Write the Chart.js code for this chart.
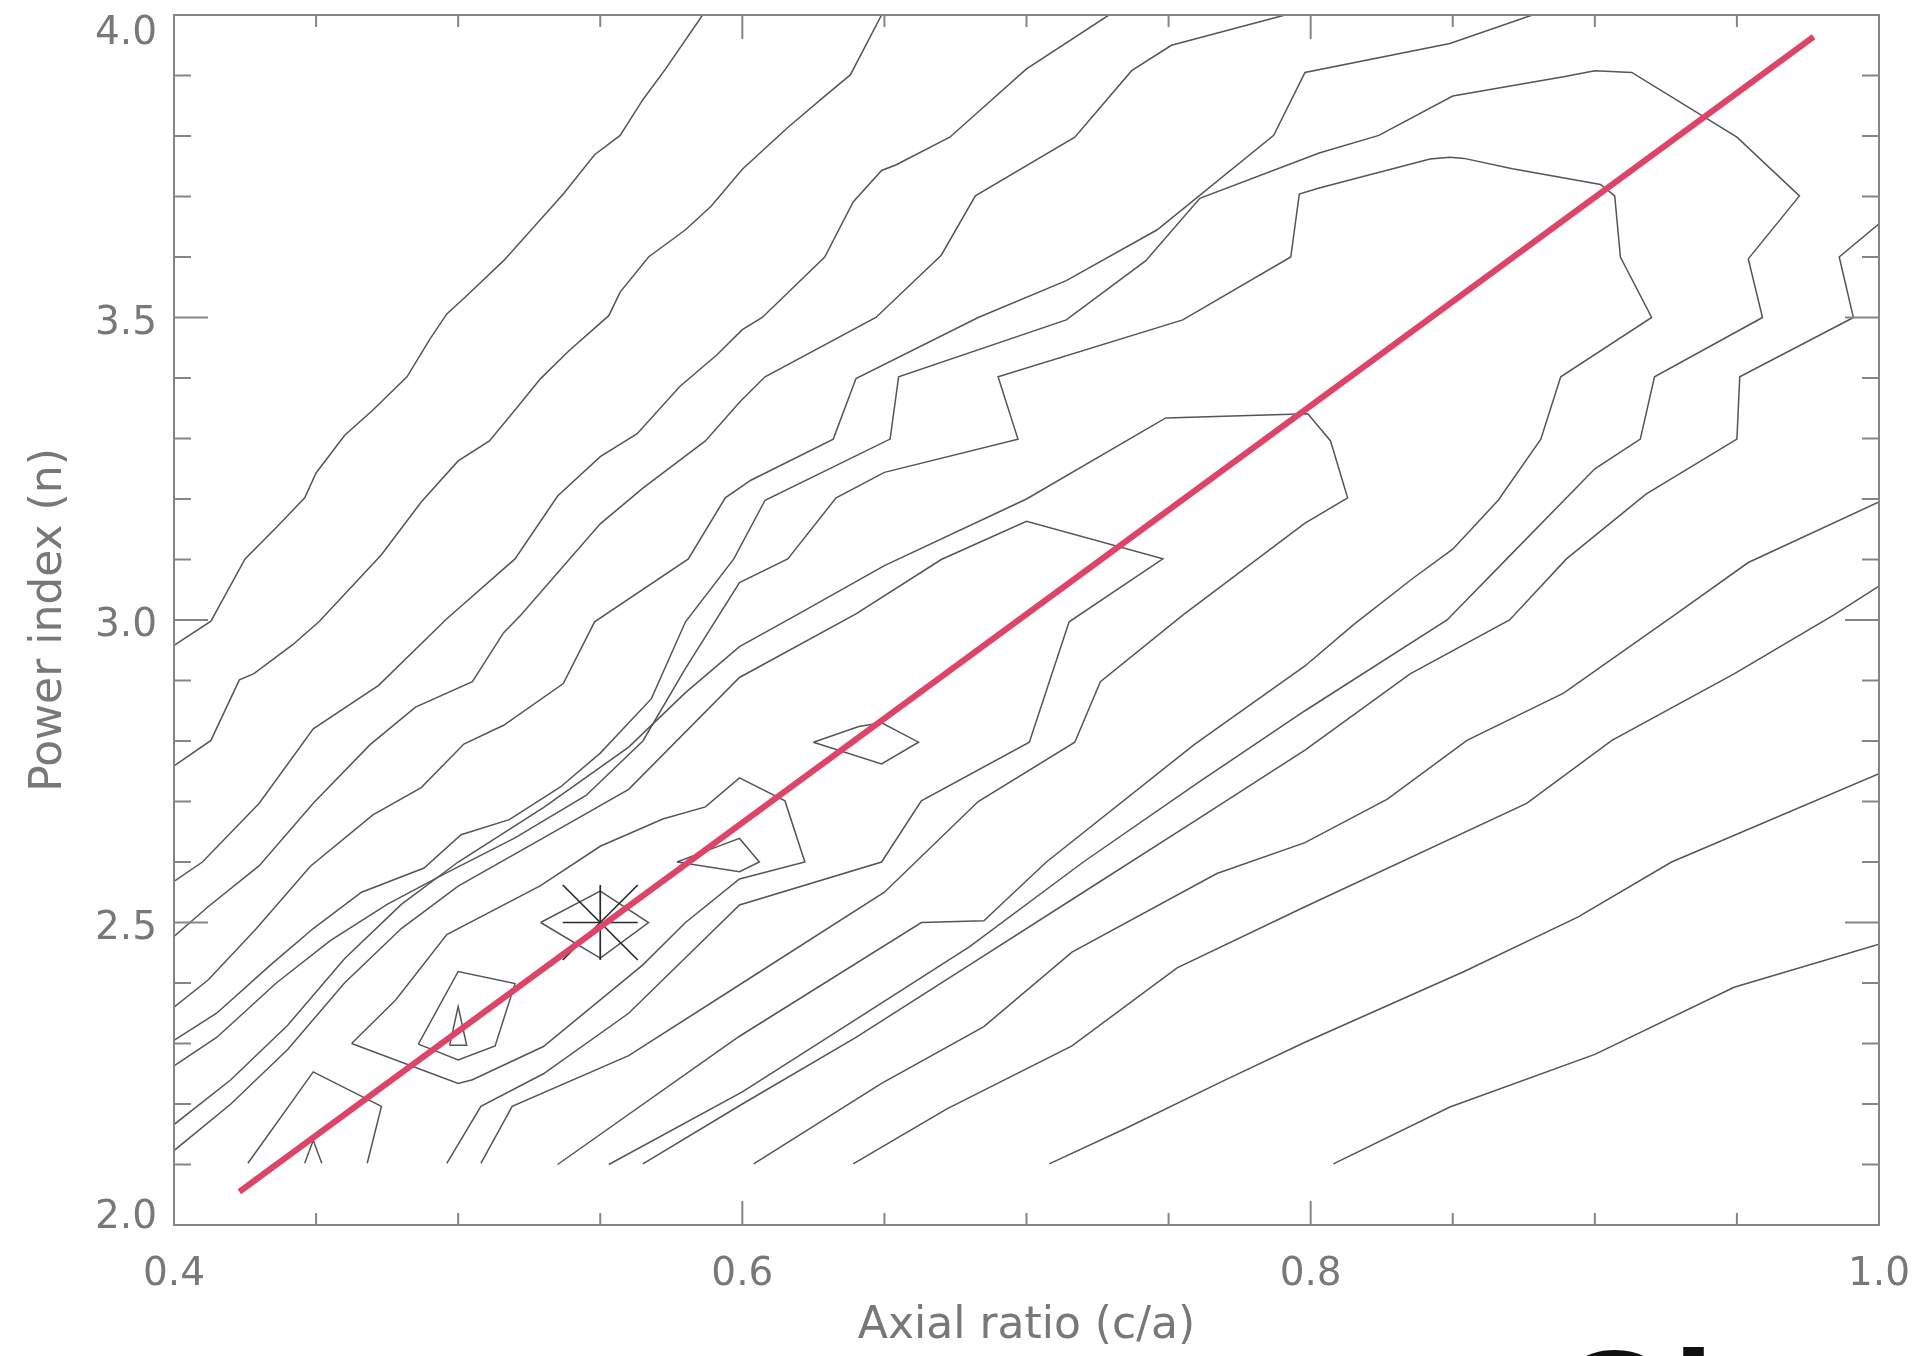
<!DOCTYPE html>
<html>
<head>
<meta charset="utf-8">
<script src="https://cdn.jsdelivr.net/npm/chart.js@4.4.1/dist/chart.umd.min.js"></script>
<style>
  html, body { margin: 0; padding: 0; background: #fff; }
  #wrap { width: 1917px; height: 1356px; overflow: hidden; }
</style>
</head>
<body>
<div id="wrap"><canvas id="contourChart" width="1917" height="1356"></canvas></div>
<script>
// Axis ranges and tick labels
const xRange = [0.4, 1.0];
const yRange = [2.0, 4.0];
const xTickLabels = ['0.4', '0.6', '0.8', '1.0'];
const yTickLabels = ['2.0', '2.5', '3.0', '3.5', '4.0'];

// Contours on the upper-left side of the valley (left edge -> top edge)
const contourA = [[0.400,2.958],[0.413,2.998],[0.425,3.101],[0.436,3.153],[0.446,3.202],[0.450,3.243],[0.460,3.305],[0.470,3.347],[0.482,3.402],[0.490,3.464],[0.496,3.506],[0.503,3.536],[0.516,3.594],[0.537,3.704],[0.548,3.769],[0.557,3.801],[0.565,3.860],[0.573,3.911],[0.586,4.000]];
const contourB = [[0.400,2.759],[0.413,2.801],[0.423,2.901],[0.428,2.911],[0.442,2.960],[0.451,2.997],[0.473,3.108],[0.487,3.195],[0.500,3.263],[0.511,3.296],[0.520,3.347],[0.529,3.399],[0.539,3.445],[0.553,3.503],[0.557,3.542],[0.567,3.600],[0.580,3.645],[0.589,3.684],[0.600,3.745],[0.616,3.814],[0.629,3.866],[0.638,3.901],[0.649,4.000]];
const contourC = [[0.400,2.568],[0.410,2.600],[0.430,2.697],[0.449,2.820],[0.472,2.892],[0.496,3.002],[0.520,3.101],[0.535,3.205],[0.550,3.270],[0.563,3.308],[0.578,3.386],[0.591,3.438],[0.600,3.480],[0.607,3.500],[0.629,3.600],[0.639,3.691],[0.649,3.743],[0.654,3.752],[0.673,3.798],[0.700,3.911],[0.729,4.000]];
const contourD = [[0.400,2.477],[0.412,2.526],[0.430,2.594],[0.449,2.697],[0.469,2.794],[0.485,2.856],[0.505,2.898],[0.516,2.979],[0.522,3.008],[0.550,3.159],[0.565,3.218],[0.587,3.296],[0.599,3.360],[0.608,3.402],[0.647,3.500],[0.670,3.603],[0.682,3.701],[0.717,3.798],[0.737,3.908],[0.751,3.950],[0.791,4.000]];
const contourE = [[0.400,2.360],[0.412,2.405],[0.429,2.490],[0.448,2.593],[0.470,2.678],[0.487,2.723],[0.502,2.795],[0.516,2.826],[0.537,2.895],[0.548,2.997],[0.581,3.101],[0.594,3.202],[0.603,3.231],[0.632,3.299],[0.640,3.399],[0.683,3.500],[0.714,3.561],[0.746,3.645],[0.787,3.801],[0.798,3.905],[0.849,3.953],[0.878,4.000]];

// Contours wrapping round the valley (left edge -> bottom edge)
const wrap1 = [[0.400,2.305],[0.415,2.350],[0.434,2.430],[0.449,2.490],[0.466,2.550],[0.488,2.590],[0.501,2.645],[0.518,2.670],[0.536,2.724],[0.550,2.780],[0.568,2.870],[0.580,2.997],[0.597,3.101],[0.608,3.198],[0.652,3.299],[0.655,3.402],[0.714,3.496],[0.742,3.594],[0.761,3.697],[0.803,3.772],[0.824,3.801],[0.850,3.866],[0.889,3.898],[0.900,3.908],[0.913,3.905],[0.950,3.798],[0.972,3.701],[0.954,3.597],[0.959,3.500],[0.921,3.402],[0.916,3.299],[0.900,3.250],[0.869,3.101],[0.848,3.000],[0.798,2.850],[0.760,2.730],[0.720,2.600],[0.680,2.460],[0.640,2.340],[0.600,2.220],[0.553,2.100]];
const wrap2 = [[0.400,2.263],[0.415,2.310],[0.436,2.400],[0.455,2.470],[0.475,2.530],[0.495,2.580],[0.520,2.640],[0.545,2.710],[0.565,2.800],[0.580,2.920],[0.599,3.062],[0.616,3.101],[0.633,3.202],[0.650,3.244],[0.697,3.299],[0.690,3.402],[0.755,3.496],[0.793,3.600],[0.796,3.704],[0.803,3.714],[0.842,3.762],[0.849,3.765],[0.854,3.763],[0.871,3.746],[0.902,3.720],[0.907,3.701],[0.909,3.600],[0.920,3.500],[0.888,3.402],[0.881,3.299],[0.866,3.198],[0.850,3.117],[0.836,3.069],[0.815,2.992],[0.798,2.924],[0.759,2.794],[0.707,2.600],[0.685,2.503],[0.663,2.500],[0.599,2.312],[0.535,2.100]];
const wrap3 = [[0.400,2.166],[0.420,2.240],[0.440,2.330],[0.460,2.440],[0.480,2.530],[0.500,2.600],[0.530,2.690],[0.560,2.790],[0.580,2.880],[0.599,2.956],[0.619,3.008],[0.650,3.090],[0.700,3.200],[0.749,3.334],[0.799,3.341],[0.807,3.296],[0.813,3.202],[0.798,3.160],[0.755,3.008],[0.726,2.898],[0.717,2.798],[0.683,2.700],[0.650,2.550],[0.600,2.400],[0.560,2.280],[0.519,2.196],[0.508,2.102]];
const wrap4 = [[0.400,2.123],[0.420,2.200],[0.440,2.290],[0.460,2.400],[0.480,2.490],[0.500,2.560],[0.530,2.640],[0.560,2.720],[0.599,2.905],[0.640,3.010],[0.670,3.100],[0.700,3.163],[0.748,3.101],[0.715,2.997],[0.701,2.798],[0.663,2.701],[0.649,2.600],[0.599,2.529],[0.560,2.350],[0.530,2.250],[0.508,2.196],[0.496,2.102]];

// Contours on the lower-right side (bottom edge -> right edge)
const right1 = [[0.565,2.101],[0.600,2.200],[0.640,2.310],[0.680,2.430],[0.720,2.550],[0.760,2.670],[0.798,2.785],[0.835,2.911],[0.870,3.000],[0.890,3.101],[0.918,3.208],[0.950,3.299],[0.951,3.402],[0.991,3.500],[0.986,3.600],[1.000,3.655]];
const right2 = [[0.604,2.101],[0.649,2.234],[0.685,2.328],[0.716,2.451],[0.767,2.581],[0.798,2.632],[0.827,2.704],[0.855,2.801],[0.889,2.879],[0.928,3.008],[0.954,3.095],[1.000,3.195]];
const right3 = [[0.639,2.101],[0.672,2.192],[0.716,2.296],[0.753,2.425],[0.798,2.526],[0.876,2.697],[0.906,2.801],[0.949,2.911],[0.984,3.008],[1.000,3.056]];
const right4 = [[0.708,2.101],[0.735,2.160],[0.770,2.240],[0.798,2.302],[0.854,2.419],[0.894,2.509],[0.927,2.600],[1.000,2.746]];
const right5 = [[0.808,2.101],[0.849,2.195],[0.900,2.282],[0.949,2.393],[1.000,2.464]];

// Closed loops and small pieces near the minimum
const loopOuter = [[0.4625,2.300],[0.478,2.372],[0.496,2.480],[0.529,2.561],[0.550,2.626],[0.572,2.671],[0.587,2.691],[0.599,2.739],[0.615,2.701],[0.622,2.600],[0.599,2.572],[0.580,2.500],[0.565,2.430],[0.550,2.372],[0.530,2.295],[0.505,2.240],[0.500,2.234],[0.4625,2.300]];
const loopSmall1 = [[0.577,2.600],[0.591,2.625],[0.599,2.639],[0.606,2.600],[0.599,2.584],[0.577,2.600]];
const loopSmall2 = [[0.625,2.798],[0.641,2.824],[0.649,2.830],[0.662,2.798],[0.649,2.762],[0.625,2.798]];
const pentagon = [[0.486,2.299],[0.500,2.419],[0.520,2.399],[0.513,2.296],[0.500,2.273],[0.486,2.299]];
const triangle = [[0.497,2.297],[0.500,2.361],[0.503,2.297],[0.497,2.297]];
const diamond = [[0.529,2.500],[0.550,2.552],[0.567,2.500],[0.550,2.441],[0.529,2.500]];
const bottomVee = [[0.426,2.102],[0.449,2.253],[0.473,2.196],[0.468,2.102]];
const bottomSpike = [[0.446,2.102],[0.449,2.140],[0.452,2.102]];

// Fitted relation and best-fit point
const fitLine = [[0.423,2.055],[0.977,3.964]];
const bestPoint = [[0.55,2.50]];

const contours = [contourA, contourB, contourC, contourD, contourE, wrap1, wrap2, wrap3, wrap4,
  right1, right2, right3, right4, right5, loopOuter, loopSmall1, loopSmall2, pentagon, triangle,
  diamond, bottomVee, bottomSpike];

const toPoints = arr => arr.map(([x, y]) => ({x, y}));

const datasets = [];
datasets.push({
  data: toPoints(fitLine), showLine: true, pointRadius: 0,
  borderColor: '#dd4467', borderWidth: 6, borderCapStyle: 'butt'
});
datasets.push({
  data: toPoints(bestPoint), pointStyle: 'cross', pointRadius: 37.5,
  pointBorderColor: '#2a2a2a', pointBorderWidth: 1.7, showLine: false
});
datasets.push({
  data: toPoints(bestPoint), pointStyle: 'crossRot', pointRadius: 53,
  pointBorderColor: '#2a2a2a', pointBorderWidth: 1.7, showLine: false
});
contours.forEach(c => {
  datasets.push({
    data: toPoints(c), showLine: true, pointRadius: 0,
    borderColor: '#555', borderWidth: 1.5, tension: 0
  });
});

// Box round the plot with inward ticks on all four sides, plus the cut-off caption
const frameTicks = {
  id: 'frameTicks',
  afterDatasetsDraw(chart) {
    const {ctx, chartArea: a, scales: {x, y}} = chart;
    ctx.save();
    ctx.strokeStyle = '#858585';
    ctx.lineWidth = 2;
    ctx.strokeRect(a.left, a.top, a.right - a.left, a.bottom - a.top);
    ctx.beginPath();
    for (let i = 0; i <= 12; i++) {
      const px = x.getPixelForValue(xRange[0] + i * 0.05);
      const len = i % 4 === 0 ? 24 : 12;
      ctx.moveTo(px, a.bottom); ctx.lineTo(px, a.bottom - len);
      ctx.moveTo(px, a.top); ctx.lineTo(px, a.top + len);
    }
    for (let i = 0; i <= 20; i++) {
      const py = y.getPixelForValue(yRange[0] + i * 0.1);
      const len = i % 5 === 0 ? 34 : 17;
      ctx.moveTo(a.left, py); ctx.lineTo(a.left + len, py);
      ctx.moveTo(a.right, py); ctx.lineTo(a.right - len, py);
    }
    ctx.stroke();
    ctx.restore();
  },
  afterDraw(chart) {
    const ctx = chart.ctx;
    ctx.save();
    ctx.fillStyle = '#111';
    ctx.font = 'bold 150px "Liberation Sans", Arial, sans-serif';
    ctx.textBaseline = 'alphabetic';
    ctx.fillText('Gl', 1556, 1456);
    ctx.restore();
  }
};

const titleFont = {family: '"DejaVu Sans", sans-serif', size: 44};

// y labels are nudged: the end ones sit inside the frame, the others a touch low
const yLabel = (v, i, ticks) => {
  const lbl = yTickLabels.find(l => Math.abs(parseFloat(l) - v) < 1e-6) || '';
  return i === 0 ? [lbl, ''] : ['', lbl];
};
const yLabelFont = ctx => {
  const last = yTickLabels.length - 1;
  const lh = ctx.index === last ? 0.95 : (ctx.index === 0 ? 0.36 : 0.31);
  return {family: '"DejaVu Sans", sans-serif', size: 39, lineHeight: lh};
};

new Chart(document.getElementById('contourChart'), {
  type: 'scatter',
  data: {datasets},
  options: {
    responsive: false,
    animation: false,
    layout: {autoPadding: false, padding: {top: 15, right: 38, left: 0, bottom: 0}},
    plugins: {legend: {display: false}, tooltip: {enabled: false}},
    scales: {
      x: {
        type: 'linear', min: xRange[0], max: xRange[1],
        afterBuildTicks: s => { s.ticks = xTickLabels.map(l => ({value: parseFloat(l)})); },
        ticks: {
          callback: v => xTickLabels.find(l => Math.abs(parseFloat(l) - v) < 1e-6) || '',
          font: {family: '"DejaVu Sans", sans-serif', size: 39}, color: '#787878', padding: 26, maxRotation: 0
        },
        grid: {display: false, drawTicks: false},
        border: {display: false},
        title: {display: true, text: 'Axial ratio (c/a)', font: titleFont, color: '#787878', padding: {top: 0, bottom: 3}},
        afterFit: s => { s.height = 131; s.paddingLeft = 0; s.paddingRight = 0; }
      },
      y: {
        type: 'linear', min: yRange[0], max: yRange[1],
        afterBuildTicks: s => { s.ticks = yTickLabels.map(l => ({value: parseFloat(l)})); },
        ticks: {callback: yLabel, font: yLabelFont, color: '#787878', padding: 17},
        grid: {display: false, drawTicks: false},
        border: {display: false},
        title: {display: true, text: 'Power index (n)', font: titleFont, color: '#787878', padding: {top: 23, bottom: 0}},
        afterFit: s => { s.width = 174; s.paddingTop = 0; s.paddingBottom = 0; }
      }
    }
  },
  plugins: [frameTicks]
});
</script>
</body>
</html>
